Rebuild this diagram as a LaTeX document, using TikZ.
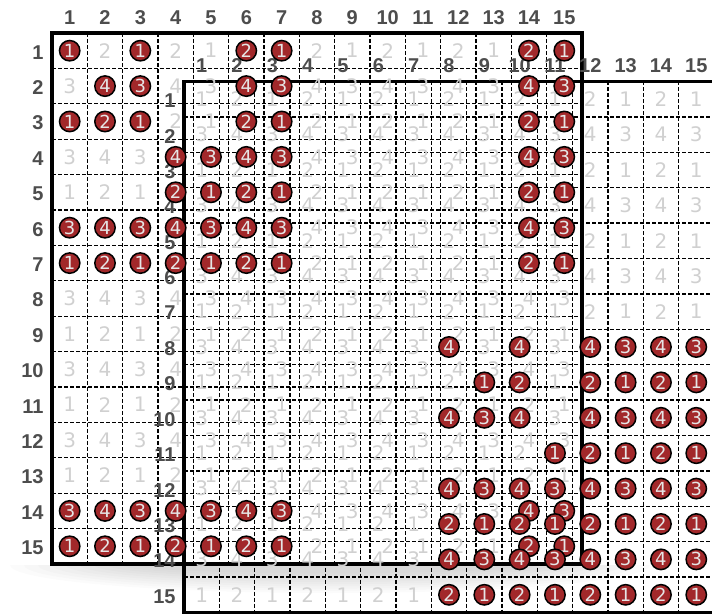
\documentclass[tikz,border=0pt]{standalone}
\usepackage{fontspec}
\setmainfont{DejaVu Sans}
\newfontfamily\labfont{Liberation Sans}
\definecolor{ballred}{HTML}{A2282A}
\definecolor{lightdig}{HTML}{D0D0D0}
\definecolor{labgray}{HTML}{4D4D4D}
\definecolor{balltext}{HTML}{E6E6E6}
\begin{document}
\begin{tikzpicture}[x=0.5pt,y=-0.5pt,
  gridline/.style={black, line width=0.65pt, dash pattern=on 2pt off 1pt},
  gridborder/.style={black, line width=1.6pt},
  lightdigit/.style={text=lightdig, font=\fontsize{10}{12}\selectfont, inner sep=0pt},
  ball/.style={circle, fill=ballred, draw=black, line width=0.75pt, minimum size=10.2pt, inner sep=0pt, text=balltext, font=\fontsize{9}{10}\selectfont},
  gridlabel/.style={text=labgray, font=\labfont\bfseries\fontsize{10}{11}\selectfont, inner sep=0pt}]
\useasboundingbox (0,0) rectangle (712,614);
\clip (0,0) rectangle (712,614);
% soft shadow below the first grid
\begin{scope}
  \clip (0,565) rectangle (712,614);
  \foreach \i in {0,...,9}{
    \fill[black, opacity=0.016] (330,565) ellipse [x radius={320-\i*14}, y radius={28-\i*2.2}];
  }
\end{scope}
% grid lines of both grids
\foreach \g/\X/\Y in {1/52/33, 2/184/81.5}{
  \foreach \k in {1,...,14}{
    \draw[gridline] ({\X+\k*35.33},\Y) -- ({\X+\k*35.33},{\Y+531});
    \draw[gridline] (\X,{\Y+\k*35.4}) -- ({\X+530},{\Y+\k*35.4});
  }
  \draw[gridborder] (\X,\Y) rectangle ({\X+530},{\Y+531});
}
% labels
\foreach \g/\X/\Y in {1/52/33, 2/184/81.5}{
  \foreach \k in {1,...,15}{
    \node[gridlabel] (col\g-\k) at ({\X+(\k-0.5)*35.33},{\Y-15.5}) {\k};
    \node[gridlabel, anchor=east] (row\g-\k) at ({\X-8},{\Y+(\k-0.5)*35.4+1.5}) {\k};
  }
}
% light digits in every cell
\foreach \g/\X/\Y in {1/52/33, 2/184/81.5}{
  \foreach \r in {1,...,15}{
    \foreach \c in {1,...,15}{
      \pgfmathtruncatemacro\v{4-2*mod(\r,2)-mod(\c,2)}
      \node[lightdigit] (d\g-\r-\c) at ({\X+(\c-0.5)*35.33},{\Y+(\r-0.5)*35.4}) {\v};
    }
  }
}
% balls of grid 1
\foreach \r/\cols in {1/{1,3,6,7,14,15},2/{2,3,6,7,14,15},3/{1,2,3,6,7,14,15},4/{4,5,6,7,14,15},5/{4,5,6,7,14,15},6/{1,2,3,4,5,6,7,14,15},7/{1,2,3,4,5,6,7,14,15},14/{1,2,3,4,5,6,7,14,15},15/{1,2,3,4,5,6,7,14,15}}{
  \foreach \c in \cols {
    \pgfmathtruncatemacro\v{4-2*mod(\r,2)-mod(\c,2)}
    \node[ball] (ba-\r-\c) at ({52+(\c-0.5)*35.33},{33+(\r-0.5)*35.4}) {\v};
  }
}
% balls of grid 2
\foreach \r/\cols in {8/{8,10,12,13,14,15},9/{9,10,12,13,14,15},10/{8,9,10,12,13,14,15},11/{11,12,13,14,15},12/{8,9,10,11,12,13,14,15},13/{8,9,10,11,12,13,14,15},14/{8,9,10,11,12,13,14,15},15/{8,9,10,11,12,13,14,15}}{
  \foreach \c in \cols {
    \pgfmathtruncatemacro\v{4-2*mod(\r,2)-mod(\c,2)}
    \node[ball] (bb-\r-\c) at ({184+(\c-0.5)*35.33},{81.5+(\r-0.5)*35.4}) {\v};
  }
}
\end{tikzpicture}
\end{document}
